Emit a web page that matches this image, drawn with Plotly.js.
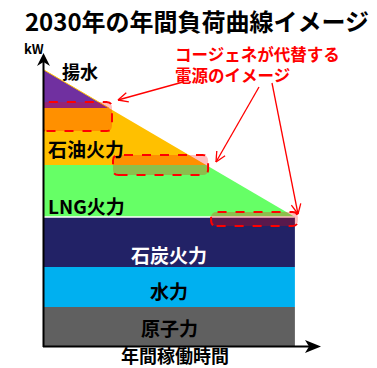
<!DOCTYPE html>
<html><head><meta charset="utf-8">
<script src="https://cdn.plot.ly/plotly-3.0.1.min.js"></script>
<style>html,body{margin:0;padding:0;background:#fff;}#chart{width:377px;height:368px;}</style>
</head><body><div id="chart"></div>
<script>
// ---- data (x: share of year, 0-100; y: relative kW) ----
const hours = [0, 100];
const nuclearTop = [20, 20];
const hydroTop = [40, 40];
const coalTop = [65, 65];
const lngX = [0, 64.6, 100];
const lngTop = [91, 91, 65];
const oilX = [0, 25.85, 64.6];
const oilTop = [119.5, 119.5, 91];
const pumpX = [0, 25.85];
const pumpTop = [138.5, 119.5];
const layerNames = ['原子力', '水力', '石炭火力', 'LNG火力', '石油火力', '揚水'];
// cogeneration replacement boxes [x0, x1, y0, y1]
const boxX0 = [-1.2, 27.5, 66.6];
const boxX1 = [27.1, 65.4, 101.2];
const boxY0 = [108, 86, 60.5];
const boxY1 = [122.5, 96, 67.5];

const FONT = 'Noto Sans CJK JP, Noto Sans, sans-serif';
// plot area geometry (pixels)
const L = 44, R = 57, T = 53, B = 21, W = 377, H = 368;
const PW = W - L - R, PH = H - T - B;
const px2x = p => (p - L) / PW;          // paper x
const py2y = p => (H - B - p) / PH;      // paper y

const traces = [
  {x: hours, y: nuclearTop, fill: 'tozeroy', fillcolor: '#606060', line: {width: 0}, mode: 'lines', name: layerNames[0]},
  {x: hours, y: hydroTop, fill: 'tonexty', fillcolor: '#00b0f0', line: {width: 0}, mode: 'lines', name: layerNames[1]},
  {x: hours, y: coalTop, fill: 'tonexty', fillcolor: '#222266', line: {width: 1.5, color: '#ffffff'}, mode: 'lines', name: layerNames[2]},
  {x: lngX, y: lngTop, fill: 'tonexty', fillcolor: '#66ff66', line: {width: 0}, mode: 'lines', name: layerNames[3]},
  {x: oilX, y: oilTop, fill: 'tonexty', fillcolor: '#ffc000', line: {width: 0}, mode: 'lines', name: layerNames[4]},
  {x: pumpX, y: pumpTop, fill: 'tonexty', fillcolor: '#7030a0', line: {width: 1, color: '#ffc000'}, mode: 'lines', name: layerNames[5]}
];

const shapes = [];
// dashed rounded boxes
for (let i = 0; i < boxX0.length; i++) {
  const x0 = boxX0[i], x1 = boxX1[i], y0 = boxY0[i], y1 = boxY1[i];
  const rx = 2.2, ry = 2.8;
  const p = `M ${x0 + rx},${y0} L ${x1 - rx},${y0} Q ${x1},${y0} ${x1},${y0 + ry} L ${x1},${y1 - ry} Q ${x1},${y1} ${x1 - rx},${y1} L ${x0 + rx},${y1} Q ${x0},${y1} ${x0},${y1 - ry} L ${x0},${y0 + ry} Q ${x0},${y0} ${x0 + rx},${y0} Z`;
  shapes.push({type: 'path', xref: 'x', yref: 'y', path: p, fillcolor: 'rgba(255,0,0,0.25)',
    line: {color: '#ff0000', width: 2, dash: 'dash'}, layer: 'above'});
}
// axes lines
shapes.push({type: 'line', xref: 'paper', yref: 'paper', x0: px2x(43.5), x1: px2x(43.5), y0: py2y(347), y1: py2y(60), line: {color: '#000', width: 2}});
shapes.push({type: 'line', xref: 'paper', yref: 'paper', x0: px2x(43), x1: px2x(312), y0: py2y(346.5), y1: py2y(346.5), line: {color: '#000', width: 2}});
function pathPx(pts) {
  return 'M ' + pts.map(p => px2x(p[0]) + ',' + py2y(p[1])).join(' L ') + ' Z';
}
// arrowheads (filled, notched)
shapes.push({type: 'path', xref: 'paper', yref: 'paper', path: pathPx([[43.5, 53], [50, 66], [43.5, 62], [37, 66]]), fillcolor: '#000', line: {width: 0}});
shapes.push({type: 'path', xref: 'paper', yref: 'paper', path: pathPx([[321, 346.5], [305, 353], [309, 346.5], [305, 340]]), fillcolor: '#000', line: {width: 0}});
// red callout arrows (pixels: start -> tip)
const arrows = [[[183, 82], [118, 100]], [[259, 87], [216, 162]], [[272, 83], [298, 214]]];
arrows.forEach(a => {
  const [s, t] = a;
  shapes.push({type: 'line', xref: 'paper', yref: 'paper', x0: px2x(s[0]), y0: py2y(s[1]), x1: px2x(t[0]), y1: py2y(t[1]), line: {color: '#ff0000', width: 1.3}});
  const ang = Math.atan2(s[1] - t[1], s[0] - t[0]);
  [0.45, -0.45].forEach(d => {
    const wx = t[0] + 11 * Math.cos(ang + d), wy = t[1] + 11 * Math.sin(ang + d);
    shapes.push({type: 'line', xref: 'paper', yref: 'paper', x0: px2x(t[0]), y0: py2y(t[1]), x1: px2x(wx), y1: py2y(wy), line: {color: '#ff0000', width: 1.3}});
  });
});

const lab = (text, xp, yp, size, color, anchor) => ({
  text, xref: 'paper', yref: 'paper', x: px2x(xp), y: py2y(yp), showarrow: false,
  xanchor: anchor || 'center', yanchor: 'middle', align: 'left',
  font: {family: FONT, size, color: color || '#000', weight: 700}
});
const annotations = [
  lab('kW', 34, 48, 13),
  lab(layerNames[5], 60, 71, 18, '#000', 'left'),
  lab(layerNames[4], 46, 148, 19, '#000', 'left'),
  lab(layerNames[3], 46, 205, 19, '#000', 'left'),
  lab(layerNames[2], 169, 254, 19, '#ffffff'),
  lab(layerNames[1], 169, 290, 19),
  lab(layerNames[0], 169, 327, 19),
  lab('年間稼働時間', 175, 355, 18),
  lab('コージェネが代替する<br>電源のイメージ', 173, 64, 16.5, '#ff0000', 'left')
];

const layout = {
  width: W, height: H,
  margin: {l: L, r: R, t: T, b: B, pad: 0},
  paper_bgcolor: '#fff', plot_bgcolor: '#fff',
  showlegend: false,
  hovermode: false,
  title: {text: '2030年の年間負荷曲線イメージ', x: 197 / W, xanchor: 'center', xref: 'container',
    y: 1 - 22.5 / H, yanchor: 'middle', yref: 'container',
    font: {family: FONT, size: 24, color: '#000', weight: 700}},
  xaxis: {range: [0, PW / 2.509], showgrid: false, zeroline: false, showline: false, showticklabels: false, ticks: '', fixedrange: true},
  yaxis: {range: [0, PH / 2], showgrid: false, zeroline: false, showline: false, showticklabels: false, ticks: '', fixedrange: true},
  shapes, annotations
};
Plotly.newPlot('chart', traces, layout, {displayModeBar: false, staticPlot: true});
</script></body></html>
